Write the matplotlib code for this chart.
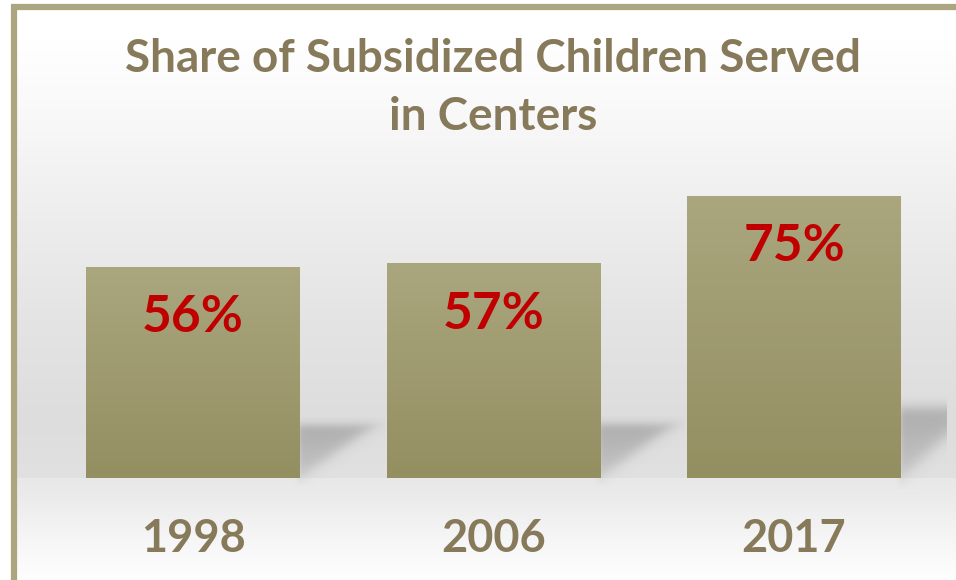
import numpy as np
import matplotlib
matplotlib.use("Agg")
import matplotlib.pyplot as plt
from matplotlib.patches import Rectangle

# ---- data ----
years = ["1998", "2006", "2017"]
shares = [56, 57, 75]
title = "Share of Subsidized Children Served\nin Centers"

# ---- style ----
W, H, DPI = 956, 580, 100
BAR_W = 0.712
FRAME = "#aba680"
TXT = "#877a5a"
RED = "#c00000"
BAR_TOP = np.array([170, 166, 126]) / 255
BAR_BOT = np.array([148, 143, 97]) / 255
FONT = ["Lato", "DejaVu Sans"]

fig = plt.figure(figsize=(W / DPI, H / DPI), dpi=DPI)
fig.patch.set_facecolor("white")
ax = fig.add_axes([0, 0, 1, 1])
ax.set_axis_off()

# pixel layout -> data limits (baseline at y=478px, 3.76px per %, bar pitch 300.5px)
px_x = 300.5
px_y = 3.765
x0 = 193
base = 478
ax.set_xlim(-x0 / px_x, (W - x0) / px_x)
ax.set_ylim(-(H - base) / px_y, base / px_y)
xl, yl = ax.get_xlim(), ax.get_ylim()

# background: wall above baseline, floor below
ys = np.arange(H)
wall = np.interp(ys, [0, 40, 120, 220, 320, 420, 478], [255, 255, 248, 237, 228, 221, 225])
floor = np.interp(ys, [478, 500, 540, 580], [232, 236, 246, 254])
g = np.where(ys < base, wall, floor) / 255
bg = np.repeat(g[:, None, None], 3, axis=2)
ax.imshow(bg, extent=[xl[0], xl[1], yl[0], yl[1]], aspect="auto", zorder=0,
          interpolation="bilinear")

clip = Rectangle((15 / W, 0), 931 / W, 1, transform=ax.transAxes, visible=False)
ax.add_patch(clip)

x = np.arange(len(years))
bars = ax.bar(x, shares, width=BAR_W, color="none", edgecolor="none", zorder=3)

grad = np.linspace(0, 1, 256)[:, None, None]
bar_img = BAR_TOP * (1 - grad) + BAR_BOT * grad
for b, v in zip(bars, shares):
    bx, bw = b.get_x(), b.get_width()
    im = ax.imshow(bar_img, extent=[bx, bx + bw, 0, v], aspect="auto", zorder=3,
                   interpolation="bilinear")
    im.set_clip_path(b)

    # soft skewed shadow to the right of the bar base
    sh = 0.25 * v
    d = 0.245
    n = 120
    u = np.linspace(-0.15, 1.15, n)
    t = np.linspace(-0.15, 1.15, n)
    U, T = np.meshgrid(u, t)
    a = 1 / (1 + np.exp(-(T - U) / 0.08))
    a *= 1 / (1 + np.exp(-(1 - T) / 0.05))
    a *= 1 / (1 + np.exp(-(U + 0.02) / 0.02))
    a *= 0.55 + 0.45 * np.clip(T, 0, 1)
    a *= 0.45
    rgba = np.zeros((n, n, 4))
    rgba[..., :3] = 0.45
    rgba[..., 3] = a
    sx0 = bx + bw
    s_im = ax.imshow(rgba, extent=[sx0 + d * u[0], sx0 + d * u[-1], sh * t[0], sh * t[-1]],
                     origin="lower", aspect="auto", zorder=2, interpolation="bilinear")
    s_im.set_clip_path(clip)

    ax.text(b.get_x() + bw / 2, v - 13.5, f"{v}%", ha="center", va="center",
            color=RED, fontsize=37, fontweight="bold", family=FONT, zorder=5)

for xi, yr in zip(x, years):
    ax.text(xi, -16.3, yr, ha="center", va="center", color=TXT, fontsize=32.5,
            fontweight="bold", family=FONT, zorder=5)

fig.text(493 / W, 1 - 88 / H, title, ha="center", va="center", color=TXT,
         fontsize=33, fontweight="bold", family=FONT, linespacing=1.5)

# white margin outside the frame, then the frame (top and left edges visible)
fig.add_artist(Rectangle((0, 0), 11 / W, 1, transform=fig.transFigure,
                         facecolor="white", edgecolor="none", zorder=1))
fig.add_artist(Rectangle((0, 1 - 4 / H), 1, 4 / H, transform=fig.transFigure,
                         facecolor="white", edgecolor="none", zorder=1))
fig.add_artist(plt.Line2D([11 / W, 1], [1 - 7 / H, 1 - 7 / H], color=FRAME, lw=4.5,
                          solid_capstyle="butt", zorder=2))
fig.add_artist(plt.Line2D([13.5 / W, 13.5 / W], [0, 1 - 5 / H], color=FRAME, lw=4.5,
                          solid_capstyle="butt", zorder=2))

fig.savefig("out.png", dpi=DPI, facecolor="white")
